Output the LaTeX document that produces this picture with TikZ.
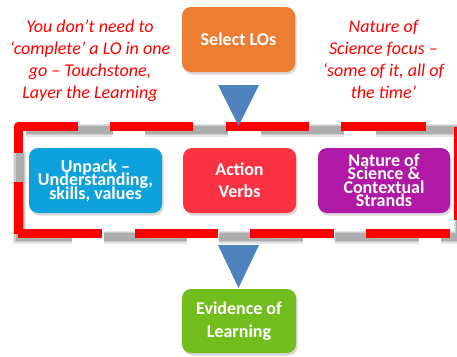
\documentclass[tikz,border=0pt]{standalone}
\usepackage{fontspec}
\setmainfont{Carlito}
\usetikzlibrary{shadows}
\definecolor{selorange}{HTML}{ED7D31}
\definecolor{unpackblue}{HTML}{0EA2DD}
\definecolor{actionred}{HTML}{FA3241}
\definecolor{naturepurple}{HTML}{AF19A6}
\definecolor{evidgreen}{HTML}{74BD1E}
\definecolor{arrowblue}{HTML}{4F81BD}
\definecolor{notered}{HTML}{FF0000}
\newcommand\tightlines{\lineskiplimit=-50pt\relax}
\begin{document}
\begin{tikzpicture}[x=1pt,y=-1pt,
  box/.style={rounded corners=9pt, text=white, align=center, inner sep=0pt,
    font={\bfseries\fontsize{18}{22}\selectfont},
    drop shadow={shadow xshift=1.5pt, shadow yshift=-2.5pt, opacity=0.3}},
  tightbox/.style={box, font={\bfseries\fontsize{18}{13.5}\selectfont\tightlines}},
  notetext/.style={text=notered, font={\itshape\fontsize{18}{22}\selectfont}, align=center, inner sep=0pt},
  redframe/.style={draw=red, line width=9pt},
  blockarrow/.style={fill=arrowblue}
]
\useasboundingbox (0,0) rectangle (457,356);

% soft grey shadow of the dashed frame
\foreach \w/\c in {13/10, 10.5/20, 8/32} {
  \begin{scope}[xshift=1.5pt, yshift=-3.5pt, draw=black!\c, line width=\w pt]
    \draw (70,233.5) -- (18,233.5) -- (18,149);
    \draw (24.5,126.5) -- (111,126.5);
    \draw (143,126.5) -- (226,126.5);
    \draw (259,126.5) -- (342,126.5);
    \draw (374,126.5) -- (459,126.5);
    \draw (458.5,159.5) -- (458.5,233.5) -- (439,233.5);
    \draw (417,233.5) -- (333,233.5);
    \draw (301,233.5) -- (217,233.5);
    \draw (185,233.5) -- (102,233.5);
  \end{scope}
}

% red dashed frame
\draw[redframe] (18,233.5) -- (18,182);
\draw[redframe, line join=round] (18,153) -- (18,126.5) -- (78,126.5);
\draw[redframe] (110,126.5) -- (193,126.5);
\draw[redframe] (226,126.5) -- (309,126.5);
\draw[redframe] (341,126.5) -- (426,126.5);
\draw[redframe] (458.5,126.5) -- (458.5,220);
\draw[redframe] (450,233.5) -- (366,233.5);
\draw[redframe] (334,233.5) -- (250,233.5);
\draw[redframe] (218,233.5) -- (135,233.5);
\draw[redframe] (102,233.5) -- (18,233.5);

% block arrows
\fill[blockarrow] (218,85) -- (259,85) -- (238.5,126) -- cycle;
\fill[blockarrow] (218,245) -- (259,245) -- (238.5,288) -- cycle;

% boxes
\node[box, fill=selorange, minimum width=113pt, minimum height=65pt] (sel) at (238.5,39.5) {Select LOs};
\node[tightbox, fill=unpackblue, minimum width=133pt, minimum height=65pt] (unpack) at (95.5,180.5) {Unpack –\\Understanding,\\skills, values};
\node[box, fill=actionred, minimum width=113pt, minimum height=65pt] (action) at (239.5,180.5) {Action\\Verbs};
\node[tightbox, fill=naturepurple, minimum width=132pt, minimum height=65pt] (nature) at (384,180.5) {Nature of\\Science \&\\Contextual\\Strands};
\node[box, fill=evidgreen, minimum width=114pt, minimum height=64pt, font={\bfseries\fontsize{18}{23}\selectfont}] (evid) at (239,321) {Evidence of\\Learning};

% notes
\node[notetext, anchor=base] (noteL) at (90,98) {You don’t need to\\‘complete’ a LO in one\\go – Touchstone,\\Layer the Learning};
\node[notetext, anchor=base] (noteR) at (383.5,98) {Nature of\\Science focus –\\‘some of it, all of\\the time’};
\end{tikzpicture}
\end{document}
